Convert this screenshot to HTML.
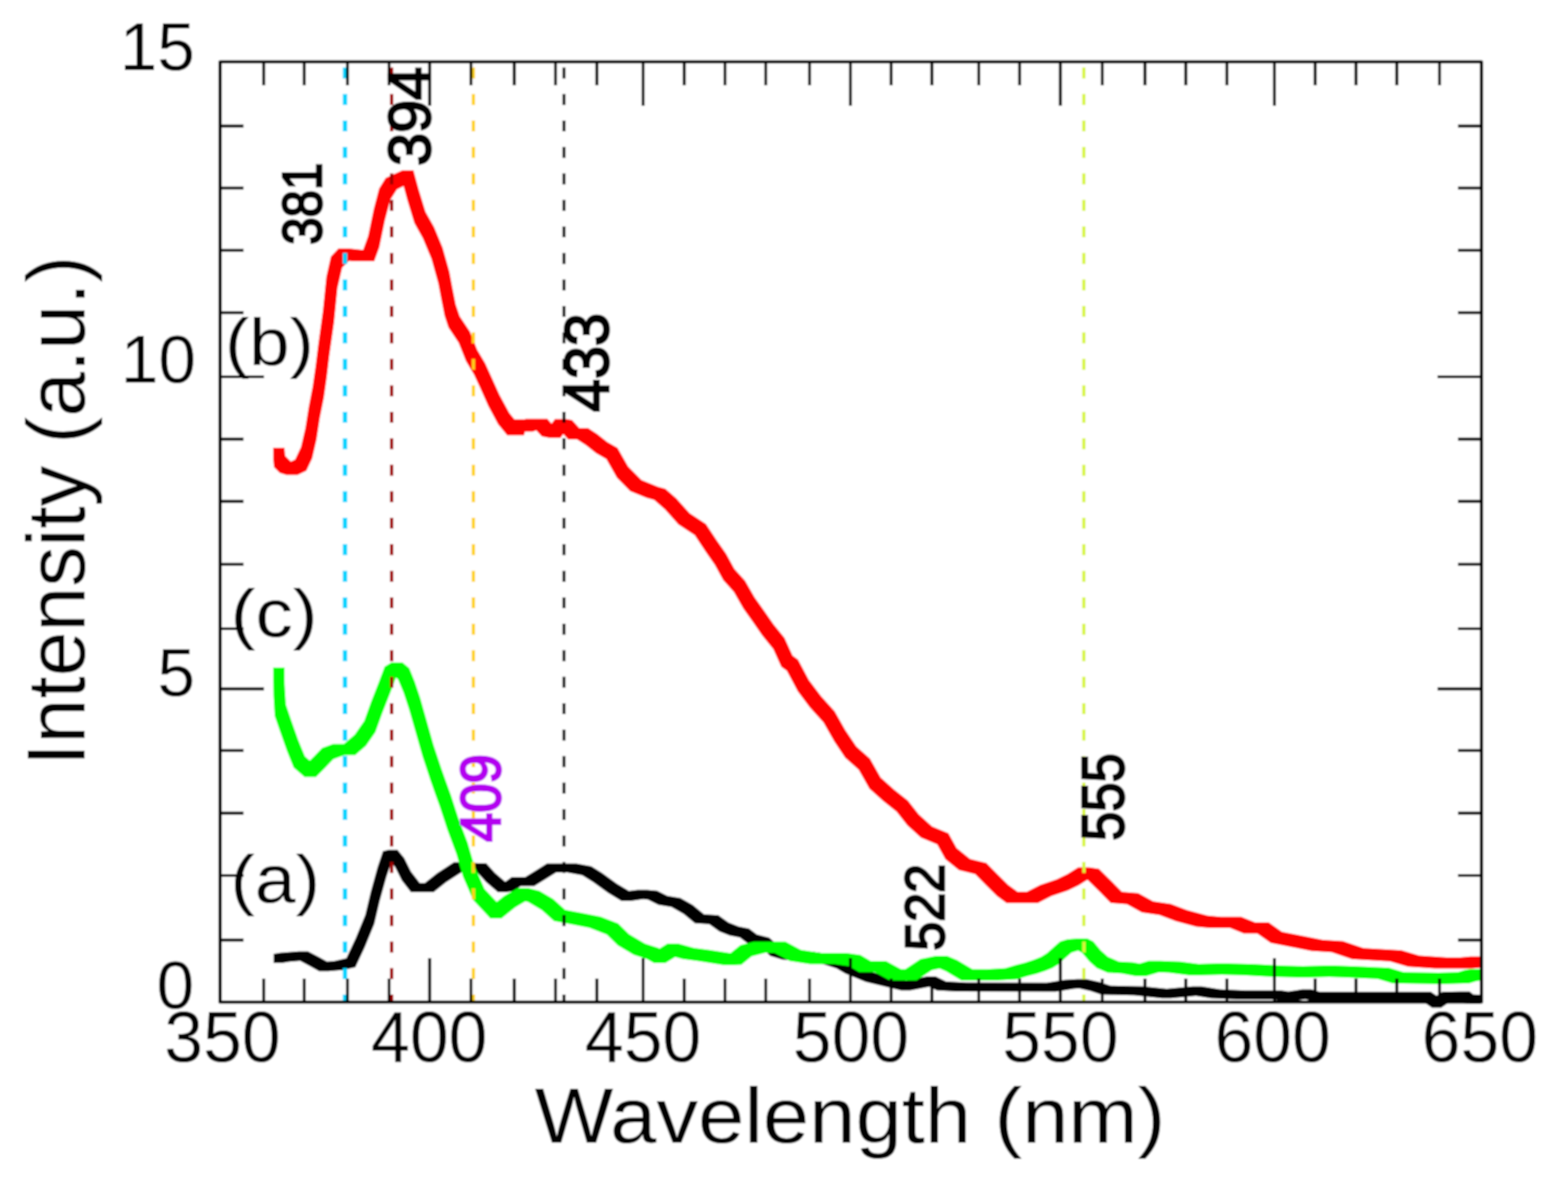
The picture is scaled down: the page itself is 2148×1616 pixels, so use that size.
<!DOCTYPE html>
<html><head><meta charset="utf-8"><title>Intensity vs Wavelength</title>
<style>
html,body{margin:0;padding:0;background:#fff;}
svg{display:block;}

text{font-family:"Liberation Sans",Arial,sans-serif;fill:#000;}
</style></head><body>
<svg width="2148" height="1616" viewBox="0 0 2148 1616">
<defs><filter id="soft" x="0" y="0" width="2148" height="1616" filterUnits="userSpaceOnUse"><feGaussianBlur stdDeviation="1"/></filter></defs>
<g filter="url(#soft)">
<rect width="2148" height="1616" fill="#fff"/>
<path d="M517.1,1187.8 507.8,1221.5 500.4,1252.8 487.4,1284.5 474.4,1312.3 457.8,1316.0 448.1,1316.8 436.8,1310.5 421.9,1302.8 409.4,1302.8 383.8,1304.8 374.8,1306.2 374.8,1318.8 387.2,1318.8 396.2,1317.2 411.1,1316.1 424.2,1323.0 437.2,1330.2 449.8,1330.2 470.2,1328.5 486.9,1324.8 499.9,1297.0 512.9,1265.2 520.2,1234.0 529.6,1200.2 536.0,1181.2 541.2,1187.5 550.5,1206.0 562.8,1221.8 594.2,1221.8 611.2,1208.2 632.8,1194.2 633.8,1194.2 653.8,1194.8 665.8,1208.0 681.8,1221.8 694.2,1221.8 704.2,1220.2 713.5,1213.5 732.0,1213.5 747.0,1204.2 761.8,1195.0 777.1,1195.0 797.5,1198.7 812.4,1208.0 832.8,1222.8 851.4,1234.0 863.9,1234.0 881.1,1231.6 887.8,1232.2 901.8,1239.2 919.8,1242.2 936.5,1251.8 952.0,1264.5 971.5,1265.8 985.5,1275.7 999.5,1281.2 1013.5,1284.0 1024.5,1292.2 1041.3,1296.5 1055.3,1309.2 1071.8,1314.2 1103.8,1316.2 1123.8,1319.2 1145.8,1326.2 1157.8,1333.2 1185.8,1344.8 1206.5,1349.7 1234.5,1356.5 1247.0,1356.5 1273.0,1351.4 1283.5,1356.5 1311.3,1358.0 1446.2,1358.2 1471.2,1354.2 1478.4,1353.8 1493.8,1357.2 1508.8,1362.2 1553.8,1363.2 1591.8,1367.2 1604.2,1367.2 1638.4,1364.0 1658.8,1367.2 1693.8,1368.8 1742.8,1368.8 1758.8,1371.2 1771.2,1371.2 1788.2,1368.5 1795.8,1370.8 1947.8,1370.8 1961.8,1380.2 1974.2,1380.2 1988.2,1370.8 2001.1,1370.5 2005.8,1374.2 2015.8,1374.8 2028.2,1374.8 2028.2,1362.2 2018.2,1361.8 2013.2,1357.8 2000.8,1357.8 1975.8,1358.2 1968.0,1363.5 1960.2,1358.2 1808.2,1358.2 1796.2,1354.8 1783.8,1354.8 1764.9,1357.8 1755.2,1356.2 1706.2,1356.2 1671.2,1354.8 1646.2,1350.8 1633.8,1350.8 1598.3,1354.1 1566.2,1350.8 1521.2,1349.8 1506.2,1344.8 1488.2,1340.8 1475.8,1340.8 1458.8,1341.8 1433.9,1345.7 1323.8,1345.5 1296.0,1344.0 1282.0,1337.2 1269.5,1337.2 1241.5,1342.7 1219.0,1337.2 1198.2,1332.2 1170.2,1320.8 1158.2,1313.8 1136.2,1306.8 1116.2,1303.8 1084.2,1301.8 1067.8,1296.8 1053.8,1284.0 1037.0,1279.8 1026.0,1271.5 1012.0,1268.8 998.0,1263.2 984.0,1253.3 964.5,1252.0 949.0,1239.3 932.2,1229.7 914.2,1226.8 900.2,1219.8 886.2,1218.5 873.8,1218.5 861.6,1220.1 845.2,1210.2 824.9,1195.5 810.0,1186.2 789.6,1182.5 749.2,1182.5 734.5,1191.8 719.5,1201.0 701.0,1201.0 692.2,1207.4 678.2,1195.5 666.2,1182.2 646.2,1181.8 634.2,1180.8 621.8,1180.8 598.8,1195.8 581.8,1209.2 575.2,1209.2 563.0,1193.5 553.8,1175.0 544.5,1163.8 532.0,1163.8 524.5,1165.8Z" fill="#000"/>
<path d="M497.3,342.2 479.1,340.2 463.6,340.2 453.2,351.2 446.9,379.2 442.2,425.8 435.8,472.2 432.2,501.2 428.2,529.2 422.8,557.2 418.2,586.2 412.2,612.2 404.2,629.2 398.5,632.0 390.8,624.2 389.8,613.2 374.2,613.2 374.2,628.8 375.2,639.8 383.2,647.8 392.2,650.4 407.8,650.4 419.8,644.8 427.8,627.8 433.8,601.8 438.2,572.8 443.8,544.8 447.8,516.8 451.2,487.8 457.8,441.2 462.4,394.8 468.8,366.8 477.7,357.3 482.2,357.8 512.8,357.8 519.8,338.8 527.4,301.8 534.8,273.8 543.8,259.4 552.8,255.0 558.1,274.8 567.5,305.4 579.2,326.6 591.0,354.8 600.2,387.8 604.0,407.8 608.9,432.6 614.2,448.6 628.2,469.6 638.2,494.4 649.2,513.0 657.8,531.5 668.9,556.2 682.2,581.0 694.8,596.2 717.8,596.2 719.3,591.2 729.8,591.2 734.6,589.5 742.2,597.8 752.2,599.8 767.8,599.8 771.7,594.6 778.2,601.8 790.2,601.8 802.6,609.8 816.5,620.8 830.5,628.8 845.0,654.2 863.2,672.8 885.9,682.0 896.0,684.8 910.9,697.8 929.2,718.2 951.6,733.1 966.5,755.5 979.2,773.8 990.6,794.4 1005.2,810.8 1018.2,833.4 1031.2,851.8 1044.2,870.5 1059.2,889.0 1070.2,913.2 1077.8,918.8 1092.7,946.8 1109.2,968.8 1128.0,989.5 1142.8,1015.5 1157.7,1037.8 1176.2,1054.3 1191.0,1080.3 1209.7,1097.0 1228.2,1111.8 1243.0,1130.5 1261.5,1147.2 1283.8,1156.5 1295.0,1176.8 1313.5,1191.8 1335.8,1197.3 1350.8,1212.5 1365.7,1227.3 1378.7,1236.8 1422.0,1236.8 1440.5,1227.3 1462.8,1219.8 1477.8,1212.5 1489.6,1205.1 1490.0,1205.2 1506.8,1221.8 1521.5,1236.8 1543.8,1238.5 1564.2,1249.8 1588.2,1253.3 1610.8,1261.8 1638.7,1269.2 1657.2,1271.0 1685.0,1271.0 1703.7,1278.5 1722.2,1278.5 1740.8,1291.5 1768.7,1297.0 1796.5,1302.5 1824.2,1304.3 1852.2,1313.8 1904.2,1316.8 1928.8,1324.0 1966.0,1326.5 2016.2,1326.5 2029.8,1325.3 2029.8,1309.8 2014.2,1309.8 2000.7,1311.0 1981.5,1311.0 1944.3,1308.5 1919.8,1301.2 1867.8,1298.2 1839.8,1288.8 1812.0,1287.0 1784.2,1281.5 1756.2,1276.0 1737.8,1263.0 1719.2,1263.0 1700.5,1255.5 1672.8,1255.5 1654.2,1253.7 1626.3,1246.2 1603.8,1237.8 1579.8,1234.2 1559.3,1223.0 1537.0,1221.2 1522.2,1206.2 1505.5,1189.7 1492.5,1187.8 1477.0,1187.8 1462.2,1197.0 1447.2,1204.2 1425.0,1211.8 1406.5,1221.2 1394.2,1221.2 1381.2,1211.8 1366.3,1197.0 1351.3,1181.8 1329.0,1176.2 1310.5,1161.2 1299.3,1141.0 1277.0,1131.8 1258.5,1115.0 1243.8,1096.2 1225.2,1081.5 1206.5,1064.8 1191.8,1038.8 1173.2,1022.2 1158.2,1000.0 1143.5,974.0 1124.8,953.2 1108.2,931.2 1093.3,903.2 1085.8,897.8 1074.8,873.5 1059.8,855.0 1046.8,836.2 1033.8,817.9 1020.8,795.2 1006.1,778.9 994.8,758.2 982.0,740.0 967.1,717.6 944.8,702.8 926.4,682.2 911.5,669.2 901.4,666.5 878.8,657.2 860.5,638.8 846.0,613.2 832.0,605.2 818.1,594.2 805.8,586.2 793.8,586.2 783.8,575.2 775.8,573.8 760.2,573.8 755.6,579.9 749.8,573.5 720.2,573.5 718.3,574.2 704.9,574.2 697.8,565.5 684.4,540.8 673.2,516.0 664.8,497.4 653.8,478.9 643.8,454.1 629.8,433.1 624.4,417.1 619.5,392.2 615.8,372.2 606.5,339.2 594.8,311.1 583.0,289.9 573.6,259.2 566.5,233.2 551.0,233.2 537.9,239.2 528.2,243.8 519.2,258.2 511.9,286.2 504.2,323.2Z" fill="#ff0000"/>
<path d="M560.2,971.2 578.8,1036.2 589.9,1069.8 596.2,1087.8 602.2,1104.2 612.8,1136.5 625.2,1169.8 634.2,1200.8 648.2,1232.8 671.6,1257.8 687.1,1257.8 705.8,1242.8 719.7,1234.5 723.6,1235.5 742.2,1246.5 758.9,1261.5 779.2,1265.2 807.2,1270.8 831.2,1280.0 846.2,1294.8 868.2,1307.8 886.2,1313.5 896.0,1319.0 911.5,1319.0 925.0,1310.7 935.0,1313.5 956.0,1316.2 991.0,1321.8 1006.5,1321.8 1015.8,1321.2 1029.8,1309.8 1048.3,1305.0 1060.8,1305.0 1081.8,1316.2 1109.7,1320.5 1144.2,1320.5 1163.2,1323.2 1177.2,1331.5 1198.2,1331.5 1219.0,1342.8 1255.5,1342.8 1276.5,1328.8 1287.1,1326.6 1295.8,1330.2 1316.8,1342.8 1367.2,1342.8 1392.8,1341.2 1407.8,1336.8 1419.8,1333.8 1431.8,1329.8 1441.8,1325.8 1449.8,1320.8 1459.8,1311.8 1467.8,1304.8 1476.8,1302.0 1482.2,1304.8 1492.2,1316.8 1502.2,1325.8 1517.2,1332.2 1536.2,1333.2 1555.0,1336.8 1570.5,1336.8 1587.5,1331.8 1601.2,1332.2 1629.2,1335.8 1644.8,1335.8 1674.0,1335.0 1703.2,1335.8 1740.2,1337.8 1777.2,1338.8 1792.8,1338.8 1820.9,1338.0 1842.2,1338.8 1887.2,1340.8 1907.2,1346.8 1965.2,1347.8 1980.8,1347.8 2012.8,1346.8 2022.8,1343.8 2029.8,1342.8 2029.8,1327.2 2014.2,1327.2 2007.2,1328.2 1997.2,1331.2 1970.8,1332.1 1922.8,1331.2 1902.8,1325.2 1857.8,1323.2 1829.8,1322.2 1814.2,1322.2 1785.0,1323.0 1755.8,1322.2 1718.8,1320.2 1681.8,1319.2 1666.2,1319.2 1642.0,1319.9 1616.8,1316.8 1589.0,1315.8 1573.5,1315.8 1561.2,1319.5 1551.8,1317.7 1532.8,1316.7 1517.8,1310.2 1507.8,1301.2 1497.8,1289.2 1489.8,1285.2 1474.2,1285.2 1462.2,1286.2 1452.2,1289.2 1444.2,1296.2 1434.2,1305.2 1426.2,1310.2 1416.2,1314.2 1404.2,1318.2 1392.2,1321.2 1377.2,1325.7 1351.8,1327.2 1332.3,1327.2 1311.3,1314.7 1297.5,1309.0 1282.0,1309.0 1261.0,1313.2 1240.0,1327.2 1234.5,1327.2 1213.8,1316.0 1192.8,1316.0 1178.8,1307.7 1159.8,1305.0 1125.2,1305.0 1097.2,1300.8 1076.2,1289.5 1032.8,1289.5 1014.2,1294.2 1000.7,1305.3 971.5,1300.8 950.5,1298.0 929.8,1292.2 914.2,1292.2 903.4,1298.9 901.8,1298.0 883.8,1292.2 861.8,1279.2 846.8,1264.5 822.8,1255.2 794.8,1249.7 774.4,1246.0 757.8,1231.0 739.1,1220.0 724.2,1216.2 708.8,1216.2 690.2,1227.2 680.5,1235.1 663.8,1217.2 649.8,1185.2 640.8,1154.2 628.2,1121.0 617.8,1088.8 611.8,1072.2 605.4,1054.2 594.2,1020.8 575.8,955.8 568.2,933.2 560.8,915.0 551.5,907.2 536.0,907.2 526.8,913.0 519.2,933.2 508.2,961.2 498.9,987.2 485.9,1006.0 471.1,1018.8 456.2,1018.8 441.2,1024.2 430.2,1035.7 424.4,1041.5 417.8,1035.7 408.6,1013.2 399.4,987.2 391.8,965.0 390.1,937.2 389.8,914.2 374.2,914.2 374.2,929.8 374.6,952.8 376.2,980.5 383.9,1002.8 393.1,1028.8 402.2,1051.2 417.2,1064.2 432.8,1064.2 445.8,1051.2 456.8,1039.8 471.8,1034.3 486.6,1034.3 501.4,1021.5 514.4,1002.8 523.8,976.8 534.8,948.8 542.2,928.5 542.7,928.3 545.2,930.5 552.8,948.8Z" fill="#00ff00"/>
<line x1="472.6" y1="92.5" x2="472.6" y2="1372.3" stroke="#00d4ff" stroke-width="6" stroke-dasharray="15 21.27"/>
<line x1="536.5" y1="92.5" x2="536.5" y2="1372.3" stroke="#a00000" stroke-width="4.5" stroke-dasharray="15 21.27"/>
<line x1="648.5" y1="92.5" x2="648.5" y2="1372.3" stroke="#ffd21e" stroke-width="4.5" stroke-dasharray="15 21.27"/>
<line x1="772.6" y1="92.5" x2="772.6" y2="1372.3" stroke="#000000" stroke-width="4" stroke-dasharray="15 21.27"/>
<line x1="1484.8" y1="92.5" x2="1484.8" y2="1372.3" stroke="#d8f53a" stroke-width="4.5" stroke-dasharray="15 21.27"/>
<path d="M361.2 1372.3V1340.3M361.2 84.7V116.7M416.8 1372.3V1340.3M416.8 84.7V116.7M476 1372.3V1340.3M476 84.7V116.7M533 1372.3V1340.3M533 84.7V116.7M588.6 1372.3V1312.3M588.6 84.7V144.7M645.1 1372.3V1340.3M645.1 84.7V116.7M704.5 1372.3V1340.3M704.5 84.7V116.7M761 1372.3V1340.3M761 84.7V116.7M817.7 1372.3V1340.3M817.7 84.7V116.7M881 1372.3V1312.3M881 84.7V144.7M937.3 1372.3V1340.3M937.3 84.7V116.7M993.1 1372.3V1340.3M993.1 84.7V116.7M1049 1372.3V1340.3M1049 84.7V116.7M1109 1372.3V1340.3M1109 84.7V116.7M1165 1372.3V1312.3M1165 84.7V144.7M1220.8 1372.3V1340.3M1220.8 84.7V116.7M1276.6 1372.3V1340.3M1276.6 84.7V116.7M1340.9 1372.3V1340.3M1340.9 84.7V116.7M1396.8 1372.3V1340.3M1396.8 84.7V116.7M1452.6 1372.3V1312.3M1452.6 84.7V144.7M1510 1372.3V1340.3M1510 84.7V116.7M1568.5 1372.3V1340.3M1568.5 84.7V116.7M1624.4 1372.3V1340.3M1624.4 84.7V116.7M1680.8 1372.3V1340.3M1680.8 84.7V116.7M1745.9 1372.3V1312.3M1745.9 84.7V144.7M1801.7 1372.3V1340.3M1801.7 84.7V116.7M1857.6 1372.3V1340.3M1857.6 84.7V116.7M1913.5 1372.3V1340.3M1913.5 84.7V116.7M1972 1372.3V1340.3M1972 84.7V116.7M301.5 172.6H333.5M2029.4 172.6H1997.4M301.5 257.5H333.5M2029.4 257.5H1997.4M301.5 342.8H333.5M2029.4 342.8H1997.4M301.5 428.2H333.5M2029.4 428.2H1997.4M301.5 516H361.5M2029.4 516H1969.4M301.5 601.4H333.5M2029.4 601.4H1997.4M301.5 686.7H333.5M2029.4 686.7H1997.4M301.5 772.8H333.5M2029.4 772.8H1997.4M301.5 861H333.5M2029.4 861H1997.4M301.5 943.4H361.5M2029.4 943.4H1969.4M301.5 1027.8H333.5M2029.4 1027.8H1997.4M301.5 1113.6H333.5M2029.4 1113.6H1997.4M301.5 1199H333.5M2029.4 1199H1997.4M301.5 1287.4H333.5M2029.4 1287.4H1997.4" stroke="#000" stroke-width="4.2" fill="none"/>
<rect x="301.5" y="84.7" width="1727.9" height="1287.6" fill="none" stroke="#000" stroke-width="4.6" stroke-linejoin="round"/>
<text transform="translate(215.55,95.50)" text-anchor="middle" font-size="92.5" style="fill:#000;">15</text>
<text transform="translate(216.90,523.70)" text-anchor="middle" font-size="92.5" style="fill:#000;">10</text>
<text transform="translate(241.50,952.50)" text-anchor="middle" font-size="92.5" style="fill:#000;">5</text>
<text transform="translate(240.25,1380.60)" text-anchor="middle" font-size="92.5" style="fill:#000;">0</text>
<text transform="translate(304.75,1453.70) scale(0.98,1)" text-anchor="middle" font-size="97.5" style="fill:#000;">350</text>
<text transform="translate(588.00,1453.50) scale(0.98,1)" text-anchor="middle" font-size="97.5" style="fill:#000;">400</text>
<text transform="translate(881.00,1453.50) scale(0.98,1)" text-anchor="middle" font-size="97.5" style="fill:#000;">450</text>
<text transform="translate(1165.70,1453.75) scale(0.98,1)" text-anchor="middle" font-size="97.5" style="fill:#000;">500</text>
<text transform="translate(1452.60,1453.75) scale(0.98,1)" text-anchor="middle" font-size="97.5" style="fill:#000;">550</text>
<text transform="translate(1743.40,1454.25) scale(0.98,1)" text-anchor="middle" font-size="97.5" style="fill:#000;">600</text>
<text transform="translate(2027.20,1454.25) scale(0.98,1)" text-anchor="middle" font-size="97.5" style="fill:#000;">650</text>
<text transform="translate(1164.50,1565.00) scale(1.0656,1)" text-anchor="middle" font-size="107.04" style="fill:#000;">Wavelength (nm)</text>
<text transform="translate(116.00,699.50) rotate(-90) scale(0.9732,1)" text-anchor="middle" font-size="113.3" style="fill:#000;">Intensity (a.u.)</text>
<text transform="translate(369.00,500.25) scale(1.0981,1)" text-anchor="middle" font-size="90.67" style="fill:#000;">(b)</text>
<text transform="translate(375.50,871.50) scale(1.1111,1)" text-anchor="middle" font-size="91.99" style="fill:#000;">(c)</text>
<text transform="translate(377.00,1235.50) scale(1.0906,1)" text-anchor="middle" font-size="91.99" style="fill:#000;">(a)</text>
<text transform="translate(440.20,279.00) rotate(-90) scale(0.8884,1)" text-anchor="middle" font-size="75.87" style="fill:#000;stroke:#000;stroke-width:3.2px;">381</text>
<text transform="translate(588.60,159.50) rotate(-90) scale(0.9872,1)" text-anchor="middle" font-size="82.39" style="fill:#000;stroke:#000;stroke-width:3.2px;">394</text>
<text transform="translate(833.00,496.50) rotate(-90) scale(0.9496,1)" text-anchor="middle" font-size="85.66" style="fill:#000;stroke:#000;stroke-width:3.2px;">433</text>
<text transform="translate(684.50,1093.00) rotate(-90) scale(0.9185,1)" text-anchor="middle" font-size="78.62" style="fill:#b400f0;stroke:#b400f0;stroke-width:3.2px;">409</text>
<text transform="translate(1292.90,1242.50) rotate(-90) scale(0.9349,1)" text-anchor="middle" font-size="76.2" style="fill:#000;stroke:#000;stroke-width:3.2px;">522</text>
<text transform="translate(1538.80,1091.50) rotate(-90) scale(0.8883,1)" text-anchor="middle" font-size="80.83" style="fill:#000;stroke:#000;stroke-width:3.2px;">555</text>
</g>
</svg>
</body></html>
